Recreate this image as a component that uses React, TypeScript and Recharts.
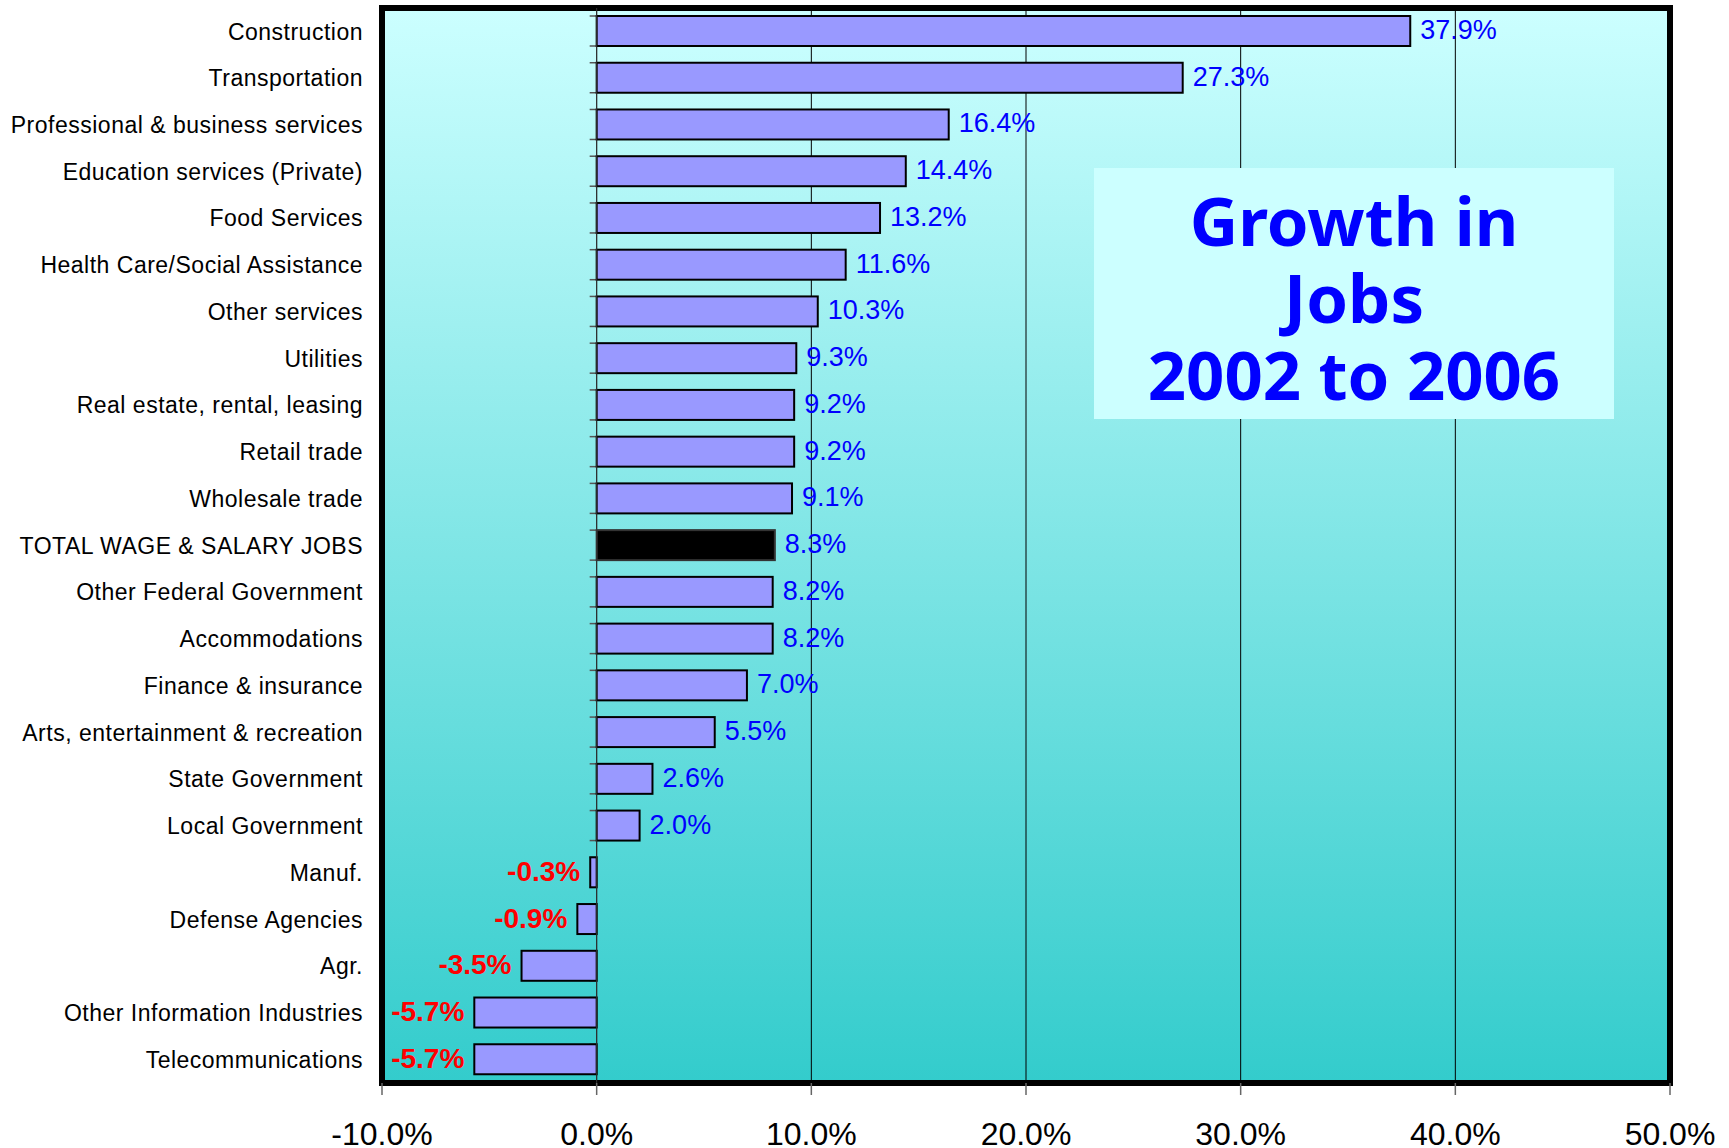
import React from 'react';
import {
  BarChart,
  Bar,
  XAxis,
  YAxis,
  CartesianGrid,
  ReferenceLine,
  ReferenceArea,
  LabelList,
  Cell,
} from 'recharts';

// categorías de arriba hacia abajo
const categories = [
  'Construction',
  'Transportation',
  'Professional & business services',
  'Education services (Private)',
  'Food Services',
  'Health Care/Social Assistance',
  'Other services',
  'Utilities',
  'Real estate, rental, leasing',
  'Retail trade',
  'Wholesale trade',
  'TOTAL WAGE & SALARY JOBS',
  'Other Federal Government',
  'Accommodations',
  'Finance & insurance',
  'Arts, entertainment & recreation',
  'State Government',
  'Local Government',
  'Manuf.',
  'Defense Agencies',
  'Agr.',
  'Other Information Industries',
  'Telecommunications',
];

// crecimiento en % (2002 a 2006)
const growth = [
  37.9, 27.3, 16.4, 14.4, 13.2, 11.6, 10.3, 9.3, 9.2, 9.2, 9.1, 8.3, 8.2, 8.2,
  7.0, 5.5, 2.6, 2.0, -0.3, -0.9, -3.5, -5.7, -5.7,
];

const xTicks = [-10, 0, 10, 20, 30, 40, 50];
const totalRow = 'TOTAL WAGE & SALARY JOBS';
const titleLines = ['Growth in', 'Jobs', '2002 to 2006'];

const FONT = '"Liberation Sans", Arial, sans-serif';

const data = categories.map((name, i) => ({ name, value: growth[i] }));

// barra con borde + marquitas del eje de categorías en el 0
const BarShape = (props: any) => {
  const { x, y, width, height, fill, background } = props;
  const val = Number(props.payload?.value ?? 0);
  const left = Math.min(x, x + width);
  const w = Math.abs(width);
  const zeroX = val < 0 ? left + w : left;
  const bandTop = background ? background.y : y - 8;
  const bandBottom = background ? background.y + background.height : y + height + 8;
  const isTotal = props.payload?.name === totalRow;
  return (
    <g>
      <line x1={zeroX - 7} x2={zeroX} y1={bandTop} y2={bandTop} stroke="#555" strokeWidth={1.5} />
      <line x1={zeroX - 7} x2={zeroX} y1={bandBottom} y2={bandBottom} stroke="#555" strokeWidth={1.5} />
      <rect
        x={left}
        y={y}
        width={w}
        height={height}
        fill={fill}
        stroke={isTotal ? '#333' : '#000'}
        strokeWidth={2}
      />
    </g>
  );
};

const renderValueLabel = (props: any) => {
  const vb = props.viewBox ?? props;
  const x = Number(vb.x);
  const y = Number(vb.y);
  const w = Number(vb.width);
  const h = Number(vb.height);
  const v = Number(props.value);
  const left = Math.min(x, x + w);
  const right = Math.max(x, x + w);
  const cy = y + h / 2 - 1;
  const txt = `${v.toFixed(1)}%`;
  if (v >= 0) {
    return (
      <text
        x={right + 10}
        y={cy}
        dominantBaseline="central"
        fill="#0000FF"
        fontSize={27}
        fontFamily={FONT}
      >
        {txt}
      </text>
    );
  }
  return (
    <text
      x={left - 10}
      y={cy}
      dominantBaseline="central"
      textAnchor="end"
      fill="#FF0000"
      fontSize={28}
      fontWeight="bold"
      fontFamily={FONT}
    >
      {txt}
    </text>
  );
};

export default function App() {
  return (
    <div style={{ position: 'absolute', left: 0, top: 0, width: 1729, height: 1148, background: '#fff' }}>
      <BarChart
        width={1729}
        height={1148}
        data={data}
        layout="vertical"
        margin={{ top: 8, right: 59, bottom: 5, left: 0 }}
        style={{ fontFamily: FONT }}
      >
        <defs>
          <linearGradient id="bgGrad" x1="0" y1="0" x2="0" y2="1">
            <stop offset="0%" stopColor="#CCFFFF" />
            <stop offset="100%" stopColor="#33CCCC" />
          </linearGradient>
        </defs>

        <CartesianGrid
          horizontal={false}
          vertical
          stroke="#000"
          strokeWidth={1}
          fill="url(#bgGrad)"
          fillOpacity={1}
        />

        <XAxis
          type="number"
          domain={[-10, 50]}
          ticks={xTicks}
          tickFormatter={(v: number) => `${v.toFixed(1)}%`}
          axisLine={false}
          tickLine={{ stroke: '#666', strokeWidth: 1.5 }}
          tickSize={12}
          tickMargin={27}
          height={60}
          tick={{ fill: '#000', fontSize: 32, fontFamily: FONT }}
        />

        <YAxis
          type="category"
          dataKey="name"
          width={382}
          axisLine={false}
          tickLine={false}
          tickSize={6}
          tickMargin={13}
          interval={0}
          tick={{ fill: '#000', fontSize: 23, fontFamily: FONT, letterSpacing: 0.5 }}
        />

        <ReferenceLine x={0} stroke="#333" strokeWidth={1} />

        <Bar dataKey="value" barSize={30} shape={BarShape} isAnimationActive={false}>
          {data.map((d) => (
            <Cell key={d.name} fill={d.name === totalRow ? '#000000' : '#9999FF'} />
          ))}
          <LabelList dataKey="value" content={renderValueLabel} />
        </Bar>

        <ReferenceArea
          x1={-10}
          x2={50}
          fill="none"
          stroke="#000"
          strokeWidth={6}
          ifOverflow="visible"
        />
      </BarChart>

      {/* recuadro del título */}
      <div
        style={{
          position: 'absolute',
          left: 1094,
          top: 168,
          width: 520,
          height: 251,
          background: '#CCFFFF',
          boxSizing: 'border-box',
          paddingTop: 14,
          textAlign: 'center',
          color: '#0000FF',
          fontFamily: '"Noto Sans", sans-serif',
          fontWeight: 700,
          fontSize: 67,
          lineHeight: '77px',
        }}
      >
        {titleLines.map((l) => (
          <div key={l}>{l}</div>
        ))}
      </div>
    </div>
  );
}
